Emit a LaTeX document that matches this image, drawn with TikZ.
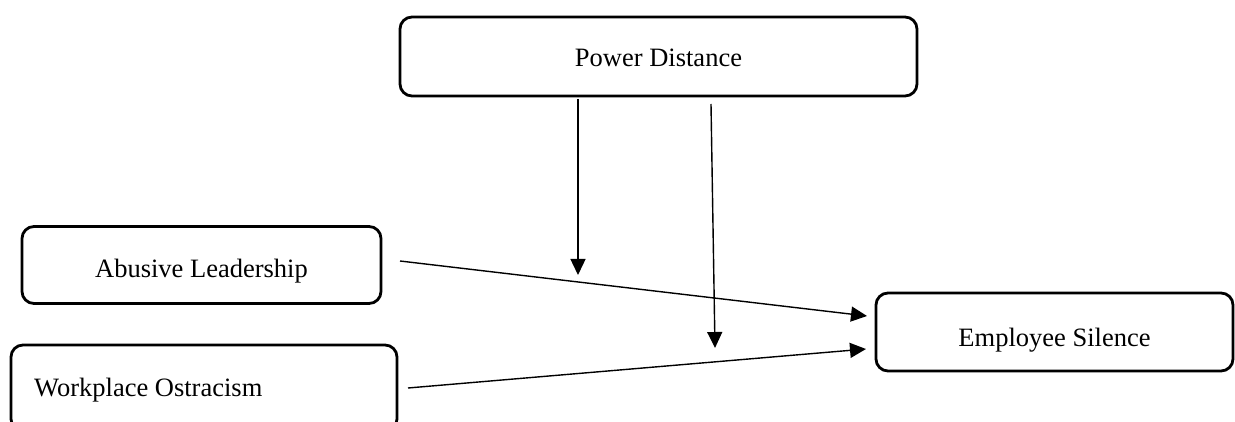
\documentclass[tikz,border=0pt]{standalone}
\usepackage{fontspec}
\setmainfont{Liberation Serif}
\usetikzlibrary{arrows.meta}
\begin{document}
\begin{tikzpicture}[x=1pt,y=-1pt,
  box/.style={draw, line width=2.8pt, rounded corners=12pt, inner sep=0pt},
  lbl/.style={inner sep=0pt, font=\fontsize{26.5}{30}\selectfont},
  arr/.style={line width=1.4pt, -{Triangle[length=16pt,width=15pt]}}]
\useasboundingbox (0,0) rectangle (1235,422);
\clip (0,0) rectangle (1235,422);
\node[box, minimum width=517pt, minimum height=79pt] (pd) at (658.5,56.5) {};
\node[lbl] (pdt) at (658.5,58) {Power Distance};
\node[box, minimum width=359pt, minimum height=77pt] (al) at (201.5,265) {};
\node[lbl] (alt) at (201.5,271) {Abusive Leadership};
\node[box, minimum width=386pt, minimum height=86pt] (wo) at (204,388) {};
\node[lbl, anchor=west] (wot) at (34,390) {Workplace Ostracism};
\node[box, minimum width=357pt, minimum height=78pt] (es) at (1054.5,332) {};
\node[lbl] (est) at (1054.5,340) {Employee Silence};
\coordinate (m1s) at (578,99);
\coordinate (m1e) at (578,275);
\coordinate (m2s) at (711,104);
\coordinate (m2e) at (715,348);
\coordinate (a1) at (400,261);
\coordinate (a1e) at (867,316);
\coordinate (w1) at (408,388);
\coordinate (w1e) at (866,349);
\draw[arr] (m1s) -- (m1e);
\draw[arr] (m2s) -- (m2e);
\draw[arr] (a1) -- (a1e);
\draw[arr] (w1) -- (w1e);
\end{tikzpicture}
\end{document}
